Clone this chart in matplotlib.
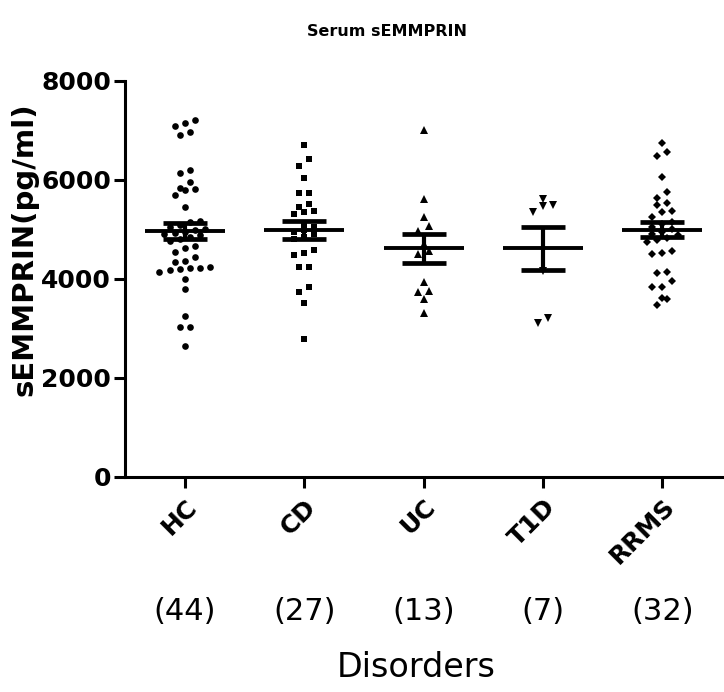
import matplotlib
matplotlib.use('Agg')
import matplotlib.pyplot as plt

plt.rcParams['font.family'] = ['DejaVu Sans']

groups = ['HC', 'CD', 'UC', 'T1D', 'RRMS']
counts = ['(44)', '(27)', '(13)', '(7)', '(32)']

hc = [7080, 7200, 7135, 6910, 6960,
      6125, 6190, 5945, 5810, 5790, 5840, 5680, 5440,
      5150, 5170,
      4880, 4945, 5050, 5000, 4980, 4920, 4850, 4800, 5080, 4900, 4760,
      4610, 4655, 4440, 4530, 4360, 4240, 4205, 4170, 4135, 4210, 4200, 4340, 3985, 3780,
      3240, 3025, 3030, 2640]
cd = [6700, 6410, 6280, 6035, 5720, 5740, 5450, 5350, 5360, 5505, 5300, 5045, 4980,
      4575, 4510, 4475, 4240, 4235, 3835, 3735, 3500, 2780,
      5100, 4950, 4900, 4850, 4800]
uc = [7000, 5600, 5250, 5065, 4965, 3935, 3735, 3750, 3590, 3300, 4700, 4550, 4490]
t1d = [5485, 5350, 5470, 5600, 3105, 3195, 4150]
rrms = [6750, 6560, 6475, 6055, 5755, 5630, 5485, 5520, 5350, 5370,
        4745, 4510, 4500, 4560, 4115, 4130, 3835, 3830, 3955, 3580, 3610, 3465,
        5250, 5150, 5100, 5050, 5000, 4950, 4900, 4880, 4820, 4780]

means = [4960, 4980, 4610, 4610, 4990]
sems = [165, 185, 290, 430, 150]

data = [hc, cd, uc, t1d, rrms]
markers = ['o', 's', '^', 'v', 'D']
msizes = [4.8, 5.0, 5.2, 5.2, 4.0]


def swarm(vals, center, dy=140, dx=0.085):
    # put close values side by side, like a column scatter
    vals = sorted(vals)
    rows = []
    for v in vals:
        if rows and v - rows[-1][0] < dy:
            rows[-1].append(v)
        else:
            rows.append([v])
    xs, ys = [], []
    for r in rows:
        n = len(r)
        for k, v in enumerate(r):
            xs.append(center + (k - (n - 1) / 2) * dx)
            ys.append(v)
    return xs, ys


fig = plt.figure(figsize=(7.24, 6.92), dpi=100)
ax = fig.add_axes([0.1727, 0.3114, 0.8246, 0.572])

for i, vals in enumerate(data):
    xs, ys = swarm(vals, i)
    ax.plot(xs, ys, linestyle='none', marker=markers[i], markersize=msizes[i],
            color='black', markeredgewidth=0)

for i in range(len(groups)):
    ax.hlines(means[i], i - 0.335, i + 0.335, color='black', linewidth=2.8, zorder=4)
    ax.errorbar(i, means[i], yerr=sems[i], color='black', elinewidth=3,
                capsize=15.5, capthick=3.4, zorder=4, fmt='none')

ax.set_xlim(-0.5, 4.5)
ax.set_ylim(0, 8000)
ax.set_yticks([0, 2000, 4000, 6000, 8000])
ax.set_xticks(range(len(groups)))
ax.set_xticklabels(groups, rotation=45, ha='right', rotation_mode='anchor',
                   fontsize=18, fontweight='bold')
for lab in ax.get_yticklabels():
    lab.set_fontsize(18)
    lab.set_fontweight('bold')

for s in ['top', 'right']:
    ax.spines[s].set_visible(False)
for s in ['left', 'bottom']:
    ax.spines[s].set_linewidth(2.2)
ax.tick_params(width=2.2, length=8, pad=2)
ax.tick_params(axis='x', pad=5)

for i, c in enumerate(counts):
    ax.text(i, -0.34, c, transform=ax.get_xaxis_transform(), ha='center',
            va='center', fontsize=22)

fig.text(0.575, 0.035, 'Disorders', ha='center', va='center', fontsize=24)
fig.text(0.034, 0.64, 'sEMMPRIN(pg/ml)', rotation=90, ha='center', va='center',
         fontsize=21, fontweight='bold')
fig.text(0.535, 0.955, 'Serum sEMMPRIN', ha='center', va='center',
         fontsize=11.5, fontweight='bold')

fig.savefig('out.png', dpi=100)
